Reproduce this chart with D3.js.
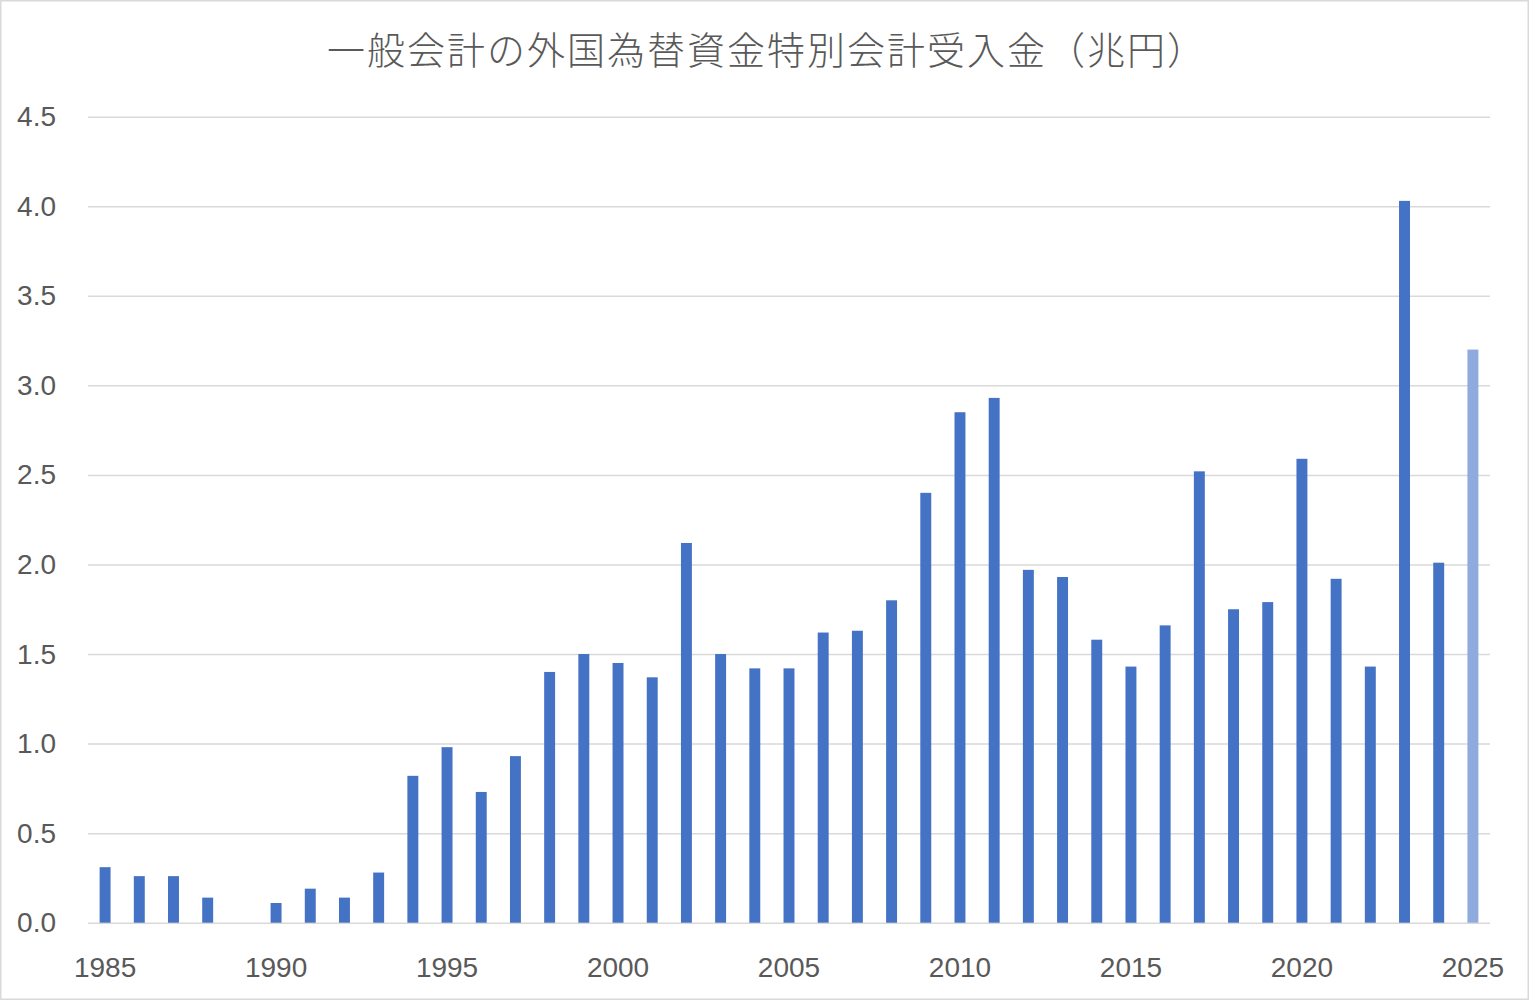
<!DOCTYPE html>
<html>
<head>
<meta charset="utf-8">
<script src="https://cdn.jsdelivr.net/npm/d3@7/dist/d3.min.js"></script>
<style>
  html, body { margin: 0; padding: 0; background: #fff; }
  svg { display: block; }
</style>
</head>
<body>
<svg id="chart" width="1529" height="1000"></svg>
<script>
// 一般会計の外国為替資金特別会計受入金（兆円）
var years = d3.range(1985, 2026);
var values = [
  0.31, 0.26, 0.26, 0.14, 0, 0.11, 0.19, 0.14, 0.28, 0.82,
  0.98, 0.73, 0.93, 1.40, 1.50, 1.45, 1.37, 2.12, 1.50, 1.42,
  1.42, 1.62, 1.63, 1.80, 2.40, 2.85, 2.93, 1.97, 1.93, 1.58,
  1.43, 1.66, 2.52, 1.75, 1.79, 2.59, 1.92, 1.43, 4.03, 2.01,
  3.20
];
var estimateYears = [2025];
var yTicks = [0, 0.5, 1.0, 1.5, 2.0, 2.5, 3.0, 3.5, 4.0, 4.5];
var xTickYears = [1985, 1990, 1995, 2000, 2005, 2010, 2015, 2020, 2025];
var title = "一般会計の外国為替資金特別会計受入金（兆円）";

var data = years.map(function(y, i) { return { year: y, value: values[i] }; });

var svg = d3.select("#chart"),
    width = +svg.attr("width"),
    height = +svg.attr("height");

var plotLeft = 88, plotRight = 1490, plotTop = 116.7, plotBottom = 922.7;

var xScale = d3.scaleBand().domain(years).range([plotLeft, plotRight]).paddingInner(0.68).paddingOuter(0.34),
    yScale = d3.scaleLinear().domain([0, 4.5]).range([plotBottom, plotTop]);

svg.append("rect")
   .attr("x", 0.75).attr("y", 0.75)
   .attr("width", width - 1.5).attr("height", height - 1.5)
   .attr("fill", "#fff")
   .attr("stroke", "#D9D9D9")
   .attr("stroke-width", 1.5);

svg.append("text")
   .attr("x", 767)
   .attr("y", 64)
   .attr("text-anchor", "middle")
   .attr("font-family", "'Noto Sans CJK JP', sans-serif")
   .attr("font-weight", 300)
   .attr("font-size", "38px")
   .attr("letter-spacing", "2px")
   .attr("fill", "#595959")
   .text(title);

// gridlines
var grid = svg.append("g")
   .attr("transform", "translate(" + plotLeft + ",0)")
   .call(d3.axisLeft(yScale).tickValues(yTicks).tickSize(-(plotRight - plotLeft)).tickFormat(""));
grid.select(".domain").remove();
grid.selectAll("line").attr("stroke", "#D9D9D9").attr("stroke-width", 1.5);

// y labels
var yAxis = svg.append("g")
   .attr("transform", "translate(" + 56 + ",0)")
   .call(d3.axisLeft(yScale).tickValues(yTicks).tickSize(0).tickPadding(0)
   .tickFormat(d3.format(".1f")));
yAxis.select(".domain").remove();
yAxis.selectAll("text")
   .attr("font-family", "'Liberation Sans', Arial, sans-serif")
   .attr("font-size", "28px")
   .attr("fill", "#595959");

// bars
svg.selectAll(".bar")
   .data(data)
   .enter().append("rect")
   .attr("class", "bar")
   .attr("x", function(d) { return xScale(d.year); })
   .attr("y", function(d) { return yScale(d.value); })
   .attr("width", xScale.bandwidth())
   .attr("height", function(d) { return plotBottom - yScale(d.value); })
   .attr("fill", function(d) { return estimateYears.indexOf(d.year) >= 0 ? "#8FAADC" : "#4472C4"; });

// x labels
var xAxis = svg.append("g")
   .attr("transform", "translate(0," + plotBottom + ")")
   .call(d3.axisBottom(xScale).tickValues(xTickYears).tickSize(0).tickPadding(0));
xAxis.select(".domain").remove();
xAxis.selectAll("text")
   .attr("dy", null)
   .attr("y", 54)
   .attr("font-family", "'Liberation Sans', Arial, sans-serif")
   .attr("font-size", "28px")
   .attr("fill", "#595959");
</script>
</body>
</html>
